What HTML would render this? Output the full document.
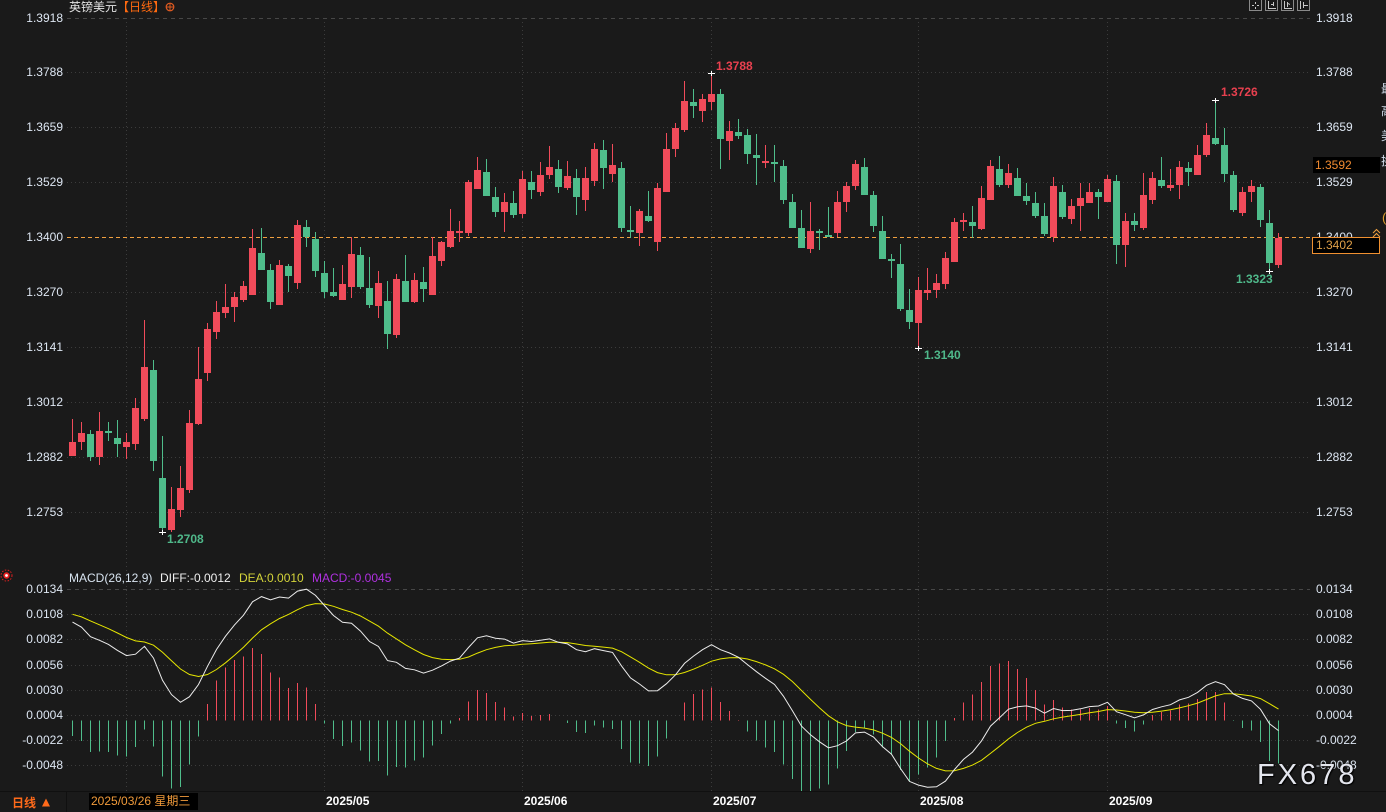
<!DOCTYPE html>
<html><head><meta charset="utf-8">
<style>
html,body{margin:0;padding:0;}
body{width:1386px;height:812px;overflow:hidden;background:#1a1a1a;position:relative;font-family:"Liberation Sans","Noto Sans CJK SC",sans-serif;}
.t{position:absolute;font-size:12px;line-height:14px;white-space:nowrap;color:#dde6f2;}
.l{left:0;width:63px;text-align:right;}
.r{left:1316px;}
.b{font-weight:bold;}
.m{font-weight:bold;color:#ffffff;}
svg{position:absolute;left:0;top:0;}
</style></head><body>
<svg width="1386" height="812" shape-rendering="crispEdges">
<g stroke="#3c3c3c" stroke-width="1" stroke-dasharray="1 3">
<line x1="67" y1="72.5" x2="1310" y2="72.5"/>
<line x1="67" y1="127.5" x2="1310" y2="127.5"/>
<line x1="67" y1="182.5" x2="1310" y2="182.5"/>
<line x1="67" y1="292.5" x2="1310" y2="292.5"/>
<line x1="67" y1="347.5" x2="1310" y2="347.5"/>
<line x1="67" y1="402.5" x2="1310" y2="402.5"/>
<line x1="67" y1="457.5" x2="1310" y2="457.5"/>
<line x1="67" y1="512.5" x2="1310" y2="512.5"/>
<line x1="67" y1="614.5" x2="1310" y2="614.5"/>
<line x1="67" y1="639.5" x2="1310" y2="639.5"/>
<line x1="67" y1="665.5" x2="1310" y2="665.5"/>
<line x1="67" y1="690.5" x2="1310" y2="690.5"/>
<line x1="67" y1="715.5" x2="1310" y2="715.5"/>
<line x1="67" y1="740.5" x2="1310" y2="740.5"/>
<line x1="67" y1="765.5" x2="1310" y2="765.5"/>
<line x1="126.5" y1="18" x2="126.5" y2="792"/>
<line x1="324.5" y1="18" x2="324.5" y2="792"/>
<line x1="522.5" y1="18" x2="522.5" y2="792"/>
<line x1="711.5" y1="18" x2="711.5" y2="792"/>
<line x1="918.5" y1="18" x2="918.5" y2="792"/>
<line x1="1107.5" y1="18" x2="1107.5" y2="792"/>
</g>
<g stroke="#474747" stroke-width="1" stroke-dasharray="4 4">
<line x1="67" y1="18.5" x2="1310" y2="18.5"/>
<line x1="67" y1="589.5" x2="1310" y2="589.5"/>
</g>
<line x1="67" y1="237.5" x2="1312" y2="237.5" stroke="#f0a040" stroke-dasharray="4 3"/>
<line x1="0" y1="791.5" x2="1386" y2="791.5" stroke="#101010"/>
<line x1="66.5" y1="792" x2="66.5" y2="812" stroke="#101010"/>
</svg>

<div id="dyn"></div>

<svg width="1386" height="812" shape-rendering="crispEdges">
<g stroke="#ffffff" stroke-width="1">
<line x1="708" y1="73.5" x2="715" y2="73.5"/><line x1="711.5" y1="71" x2="711.5" y2="76"/>
<line x1="1212" y1="100.5" x2="1219" y2="100.5"/><line x1="1215.5" y1="98" x2="1215.5" y2="103"/>
<line x1="159" y1="532.5" x2="166" y2="532.5"/><line x1="162.5" y1="530" x2="162.5" y2="535"/>
<line x1="915" y1="348.5" x2="922" y2="348.5"/><line x1="918.5" y1="346" x2="918.5" y2="351"/>
<line x1="1266" y1="271.5" x2="1273" y2="271.5"/><line x1="1269.5" y1="269" x2="1269.5" y2="274"/>
</g>
<g fill="#1a1a1a" stroke="#8a8a8a">
<rect x="1249.5" y="-0.5" width="12" height="11"/>
<rect x="1265.5" y="-0.5" width="12" height="11"/>
<rect x="1281.5" y="-0.5" width="12" height="11"/>
<rect x="1297.5" y="-0.5" width="12" height="11"/>
</g>
<g stroke="#c8c8c8">
<line x1="1252" y1="5.5" x2="1254" y2="5.5"/><line x1="1257" y1="5.5" x2="1259" y2="5.5"/>
<line x1="1255.5" y1="2" x2="1255.5" y2="4"/><line x1="1255.5" y1="7" x2="1255.5" y2="9"/>
<line x1="1268.5" y1="1" x2="1268.5" y2="9"/><line x1="1268" y1="8.5" x2="1276" y2="8.5"/><line x1="1273.5" y1="2" x2="1273.5" y2="6"/><line x1="1271" y1="4.5" x2="1273" y2="4.5"/>
<line x1="1284.5" y1="1" x2="1284.5" y2="9"/><line x1="1284" y1="8.5" x2="1292" y2="8.5"/><line x1="1287.5" y1="2" x2="1287.5" y2="7"/><line x1="1288" y1="3.5" x2="1290" y2="4.5"/>
<line x1="1300.5" y1="1" x2="1300.5" y2="9"/><line x1="1303.5" y1="2" x2="1303.5" y2="8"/><line x1="1303" y1="5.5" x2="1308" y2="5.5"/>
</g>
<g fill="none" stroke="#f0a040" shape-rendering="auto">
<polyline points="1373,233 1376.5,229.5 1380,233"/>
<polyline points="1373,237 1376.5,233.5 1380,237"/>
</g>
<g shape-rendering="auto">
<circle cx="6.5" cy="575.5" r="5.5" fill="none" stroke="#e02020" stroke-dasharray="1.5 1.5"/>
<circle cx="6.5" cy="575.5" r="3.2" fill="#e82020"/>
<circle cx="6.5" cy="575.5" r="1.4" fill="#ffffff"/>
<circle cx="170" cy="7" r="3.8" fill="none" stroke="#e05a20" stroke-width="1.2"/>
<line x1="166" y1="7" x2="174" y2="7" stroke="#e05a20" stroke-width="1"/>
<line x1="170" y1="3" x2="170" y2="11" stroke="#e05a20" stroke-width="1"/>
<polygon points="42,806.5 50,806.5 46,798.5" fill="#ff6a1a"/>
</g>
</svg>

<div class="t" style="left:69px;top:0px;color:#e2e2e2;">英镑美元<span style="color:#ff6a10;">【日线】</span></div>

<div class="t l" style="top:11px;">1.3918</div>
<div class="t l" style="top:65px;">1.3788</div>
<div class="t l" style="top:120px;">1.3659</div>
<div class="t l" style="top:175px;">1.3529</div>
<div class="t l" style="top:230px;">1.3400</div>
<div class="t l" style="top:285px;">1.3270</div>
<div class="t l" style="top:340px;">1.3141</div>
<div class="t l" style="top:395px;">1.3012</div>
<div class="t l" style="top:450px;">1.2882</div>
<div class="t l" style="top:505px;">1.2753</div>

<div class="t r" style="top:11px;">1.3918</div>
<div class="t r" style="top:65px;">1.3788</div>
<div class="t r" style="top:120px;">1.3659</div>
<div class="t r" style="top:175px;">1.3529</div>
<div class="t r" style="top:230px;">1.3400</div>
<div class="t r" style="top:285px;">1.3270</div>
<div class="t r" style="top:340px;">1.3141</div>
<div class="t r" style="top:395px;">1.3012</div>
<div class="t r" style="top:450px;">1.2882</div>
<div class="t r" style="top:505px;">1.2753</div>

<div class="t" style="left:1313px;top:157px;width:67px;height:16px;background:#000;color:#f08a30;line-height:16px;padding-left:2px;box-sizing:border-box;">1.3592</div>
<div class="t" style="left:1312px;top:237px;width:68px;height:17px;background:#000;border:1px solid #f09030;color:#e0a048;line-height:15px;padding-left:3px;box-sizing:border-box;">1.3402</div>

<div class="t" style="left:1381px;top:82px;color:#d0dcea;">最</div>
<div class="t" style="left:1381px;top:104px;color:#d0dcea;">高</div>
<div class="t" style="left:1381px;top:129px;color:#d0dcea;">美</div>
<div class="t" style="left:1381px;top:154px;color:#d0dcea;">换</div>
<div class="t" style="left:1382px;top:211px;color:#e0a030;font-size:13px;">(</div>

<div class="t b" style="left:716px;top:59px;color:#e8404f;">1.3788</div>
<div class="t b" style="left:1221px;top:85px;color:#e8404f;">1.3726</div>
<div class="t b" style="left:167px;top:532px;color:#4fb88a;">1.2708</div>
<div class="t b" style="left:924px;top:348px;color:#4fb88a;">1.3140</div>
<div class="t b" style="left:1236px;top:272px;color:#4fb88a;">1.3323</div>

<div class="t" style="left:69px;top:571px;color:#d8e4f0;">MACD(26,12,9)</div>
<div class="t" style="left:160px;top:571px;color:#f0f0f0;">DIFF:-0.0012</div>
<div class="t" style="left:239px;top:571px;color:#d4d43a;">DEA:0.0010</div>
<div class="t" style="left:312px;top:571px;color:#b030e0;">MACD:-0.0045</div>

<div class="t l" style="top:582px;">0.0134</div>
<div class="t l" style="top:607px;">0.0108</div>
<div class="t l" style="top:632px;">0.0082</div>
<div class="t l" style="top:658px;">0.0056</div>
<div class="t l" style="top:683px;">0.0030</div>
<div class="t l" style="top:708px;">0.0004</div>
<div class="t l" style="top:733px;">-0.0022</div>
<div class="t l" style="top:758px;">-0.0048</div>

<div class="t r" style="top:582px;">0.0134</div>
<div class="t r" style="top:607px;">0.0108</div>
<div class="t r" style="top:632px;">0.0082</div>
<div class="t r" style="top:658px;">0.0056</div>
<div class="t r" style="top:683px;">0.0030</div>
<div class="t r" style="top:708px;">0.0004</div>
<div class="t r" style="top:733px;">-0.0022</div>
<div class="t r" style="top:758px;">-0.0048</div>

<div style="position:absolute;left:1257px;top:761px;font-size:29px;line-height:29px;letter-spacing:3px;color:#e4e6ee;text-shadow:0 0 2px #000,1px 1px 1px #000;white-space:nowrap;font-family:'Liberation Sans',sans-serif;">FX678</div>

<div class="t b" style="left:12px;top:796px;color:#ff6a1a;">日线</div>
<div class="t" style="left:89px;top:793px;width:109px;height:17px;background:#000;color:#f09a3a;line-height:17px;padding-left:2px;box-sizing:border-box;">2025/03/26 星期三</div>
<div class="t m" style="left:326px;top:794px;">2025/05</div>
<div class="t m" style="left:524px;top:794px;">2025/06</div>
<div class="t m" style="left:713px;top:794px;">2025/07</div>
<div class="t m" style="left:920px;top:794px;">2025/08</div>
<div class="t m" style="left:1109px;top:794px;">2025/09</div>

<script>
var C=[
[1,442,456,419,456],[1,433,442,422,450],[0,434,457,430,461],[1,431,457,412,465],[0,431,433,422,441],
[0,438,444,420,457],[1,442,447,433,459],[1,408,444,398,450],[1,367,419,320,421],[0,370,461,360,471],
[0,478,528,436,532],[1,509,530,487,532],[1,488,510,466,517],[1,423,490,410,493],[1,379,424,347,425],
[1,329,373,323,381],[1,312,332,301,339],[1,307,313,284,318],[1,297,307,292,322],[1,286,300,281,302],
[1,248,295,229,295],[0,253,270,228,270],[0,270,302,264,309],[1,265,305,260,305],[0,266,276,264,292],
[1,225,283,220,289],[0,227,237,220,247],[0,239,271,232,277],[0,273,292,261,298],[0,292,296,268,297],
[1,284,300,265,300],[1,254,287,237,298],[0,255,287,247,289],[0,288,305,257,308],[1,283,306,271,318],
[0,301,334,281,349],[1,279,335,274,338],[0,281,302,255,302],[1,280,302,273,303],[0,282,289,267,302],
[1,256,295,237,295],[1,242,261,241,266],[1,231,247,209,248],[1,231,233,221,242],[1,182,233,180,236],
[1,170,189,157,189],[0,172,196,159,196],[0,197,212,187,217],[1,202,212,193,232],[0,203,215,191,218],
[1,179,214,171,218],[0,182,190,171,199],[1,175,192,162,196],[1,167,175,146,179],[0,169,187,160,193],
[1,176,188,161,190],[0,178,197,169,215],[1,178,200,167,211],[1,149,181,143,186],[0,150,168,140,189],
[1,165,174,144,182],[0,168,228,162,232],[0,230,232,206,238],[1,211,233,209,246],[0,216,221,191,222],
[1,188,242,183,251],[1,149,192,133,192],[1,128,149,123,157],[1,101,130,81,132],[0,102,106,89,118],
[1,99,111,94,122],[1,94,102,73,110],[0,94,139,89,169],[1,131,141,121,160],[0,132,136,119,139],
[0,135,154,129,164],[0,155,158,134,185],[1,161,163,145,168],[0,162,164,145,182],[0,166,200,160,204],
[0,202,228,194,228],[0,228,248,210,248],[1,231,249,202,253],[0,231,233,229,250],[0,235,237,207,237],
[1,202,233,191,237],[1,186,202,182,212],[1,164,186,160,190],[0,167,195,158,195],[0,195,226,191,232],
[0,231,259,216,259],[0,259,261,254,278],[0,264,309,244,311],[0,310,322,289,329],[1,290,323,277,348],
[1,290,293,268,300],[1,283,290,274,298],[1,258,284,252,289],[1,222,262,218,262],[1,220,222,213,231],
[0,222,226,206,238],[1,198,229,186,230],[1,166,200,160,200],[0,169,185,156,187],[1,173,185,164,188],
[0,178,196,168,196],[0,196,201,183,205],[0,203,216,192,218],[0,216,234,203,236],[1,186,237,177,242],
[0,192,217,185,219],[1,206,219,199,224],[1,198,206,183,231],[1,192,203,183,203],[0,192,197,189,219],
[1,179,202,175,202],[0,181,245,175,264],[1,221,245,213,267],[0,221,225,213,231],[1,195,228,173,230],
[1,178,200,172,204],[0,180,186,157,188],[1,185,188,169,191],[1,167,185,161,199],[0,168,172,162,186],
[1,155,175,145,175],[1,135,155,123,157],[0,138,144,100,145],[0,145,174,128,182],[0,175,210,171,212],
[1,192,213,187,216],[1,186,192,180,202],[0,187,220,184,227],[0,223,263,210,272],[1,238,265,233,268]
];
var RED='#f04b5a',GRN='#4fbd8b';
var s='<svg width="1386" height="812" style="position:absolute;left:0;top:0">';
s+='<defs><clipPath id="mc"><rect x="67" y="583" width="1245" height="208"/></clipPath></defs>';
s+='<g shape-rendering="crispEdges">';
var i,c;
for(i=0;i<C.length;i++){
  c=C[i];
  var x=69+9*i, cx=x+3.5, col=c[0]?RED:GRN;
  var t=c[1], b=c[2]; if(b-t<1){b=t+1;}
  s+='<line x1="'+cx+'" y1="'+c[3]+'" x2="'+cx+'" y2="'+c[4]+'" stroke="'+col+'"/>';
  s+='<rect x="'+x+'" y="'+t+'" width="7" height="'+(b-t)+'" fill="'+col+'"/>';
}
s+='</g>';
var e12,e26,dea,pd='',pe='',h='';
for(i=0;i<C.length;i++){
  c=C[i];
  var cy=c[0]?c[1]:c[2];
  var p=1.34-(cy-237.5)/4247;
  if(i===0){e12=p-0.0005;e26=e12-0.0100;dea=0.0108;}
  else{e12+=(p-e12)*2/13;e26+=(p-e26)*2/27;}
  var df=e12-e26;
  if(i>0){dea+=(df-dea)*0.2;}
  var m=2*(df-dea);
  var X=72.5+9*i;
  pd+=(i?'L':'M')+X+','+(719-df*9692).toFixed(1);
  pe+=(i?'L':'M')+X+','+(719-dea*9692).toFixed(1);
  var y2=(720.5-m*9692).toFixed(1);
  h+='<line x1="'+X+'" y1="720.5" x2="'+X+'" y2="'+y2+'" stroke="'+(m>=0?RED:GRN)+'"/>';
}
s+='<g clip-path="url(#mc)"><g shape-rendering="crispEdges">'+h+'</g>';
s+='<path d="'+pe+'" fill="none" stroke="#e6e600" stroke-width="1"/>';
s+='<path d="'+pd+'" fill="none" stroke="#ececec" stroke-width="1"/></g>';
s+='</svg>';
document.getElementById('dyn').innerHTML=s;
</script>
</body></html>
